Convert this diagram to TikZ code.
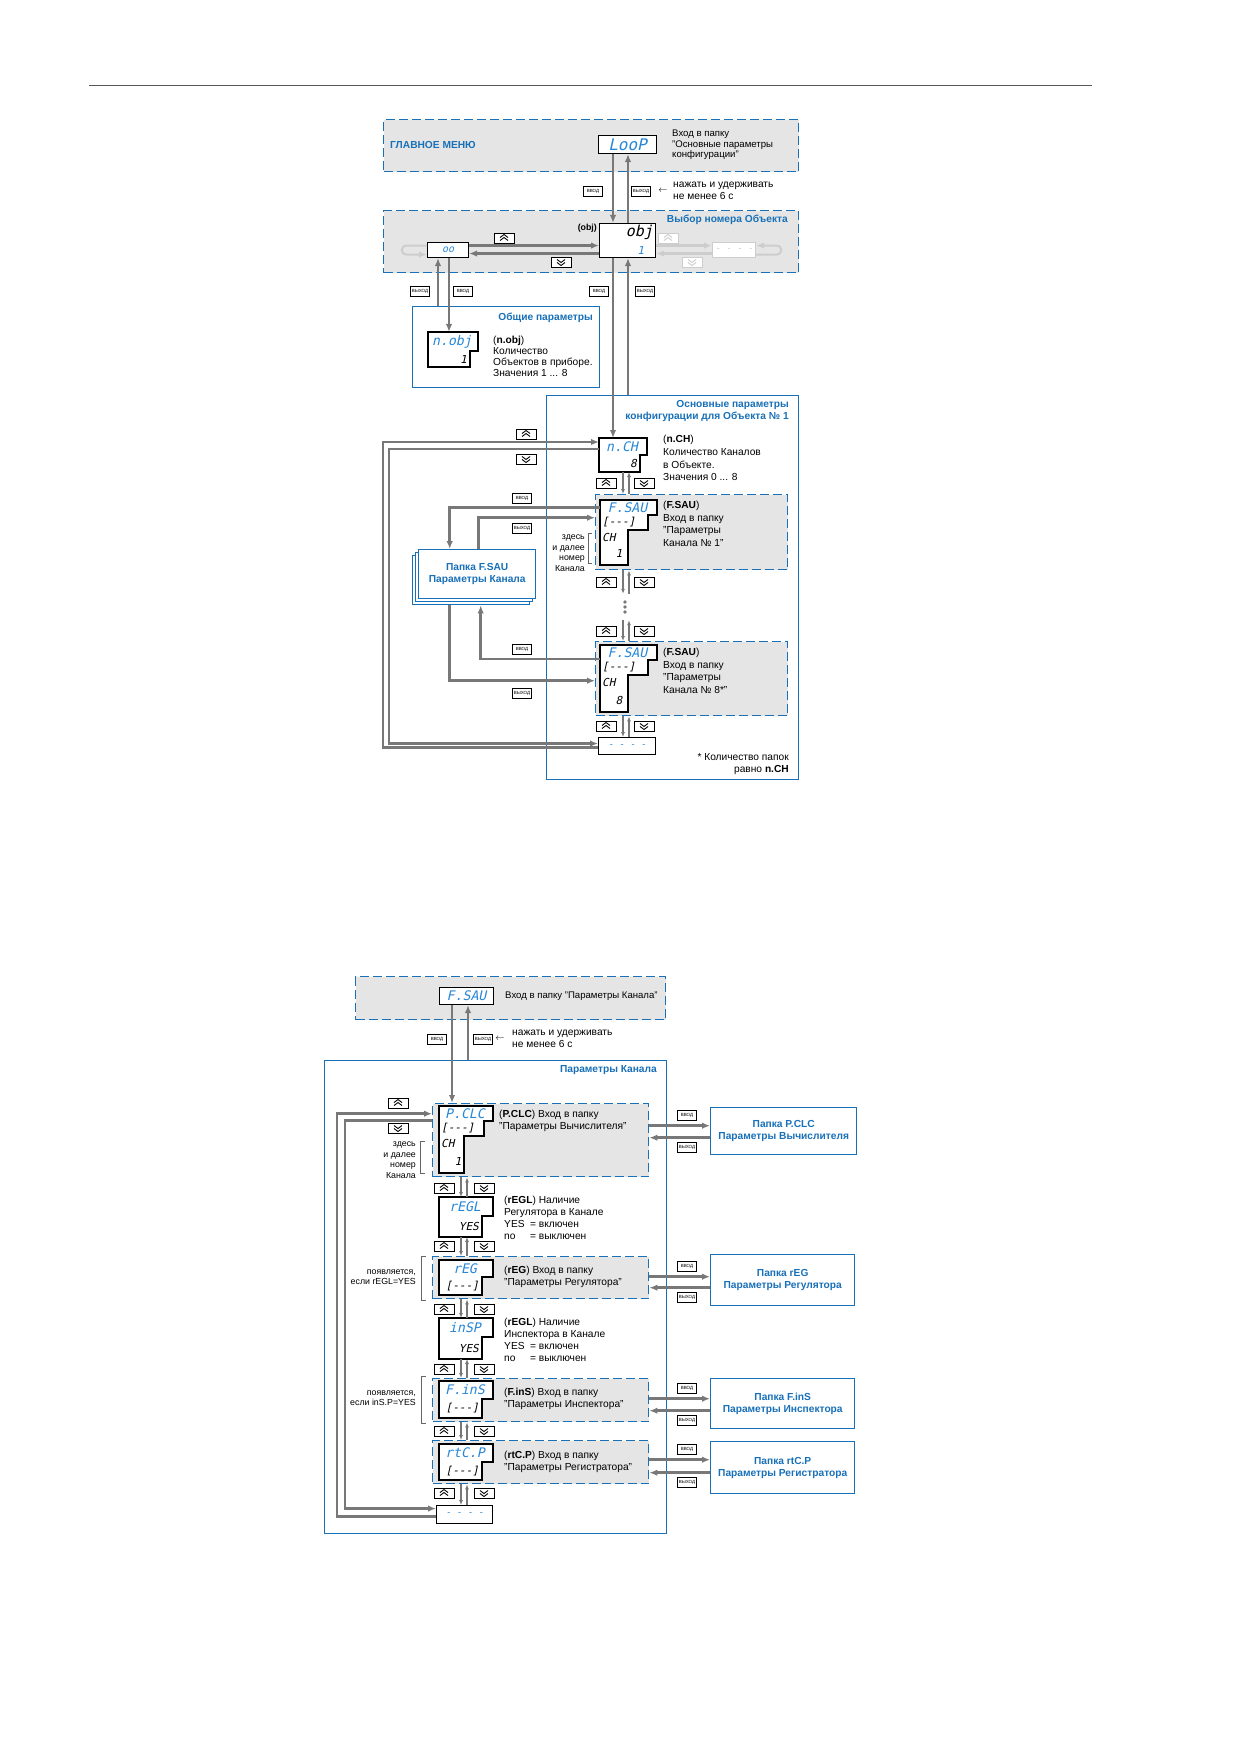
\documentclass[tikz,border=0pt]{standalone}
\usepackage{fontspec}
\setmainfont{Liberation Sans}
\newfontfamily\segfont{DejaVu Sans Mono}[FakeSlant=0.22]
\usetikzlibrary{arrows.meta,calc}

\definecolor{boxblue}{RGB}{24,112,184}
\definecolor{segblue}{RGB}{40,135,215}
\definecolor{panelgray}{RGB}{229,229,229}
\definecolor{flowgray}{RGB}{120,120,120}
\definecolor{fadegray}{RGB}{205,205,205}

\newcommand{\txtsize}{\fontsize{10.2}{11.8}\selectfont}
\newcommand{\notesize}{\fontsize{8.8}{10.6}\selectfont}
\newcommand{\keysize}{\fontsize{4.5}{5}\selectfont}

% display with four rows: name, left, top, width, height, top text, channel digit
\newcommand{\chdisp}[7]{%
  \node[dispbox, anchor=north west, minimum width=#4, minimum height=#5] (#1) at (#2,#3) {};
  \draw[dispedge] (#1.north west) -- (#1.north east) -- ++(0,15) -- ++(-9,0) -- ++(0,15) -- ++(-20,0) |- (#1.south west) -- cycle;
  \node[segtop] (#1top) at ($(#1.north)+(-1,7.5)$) {#6};
  \node[segrow, anchor=west] (#1mid) at ($(#1.north west)+(2,22.5)$) {[-{}-{}-]};
  \node[segrow, anchor=west] (#1ch) at ($(#1.north west)+(2,37.5)$) {CH};
  \node[segrow] (#1num) at ($(#1.north west)+(19,#5-12)$) {#7};
}
% display with two rows: name, left, top, width, height, step, inset, top text, bottom text
\newcommand{\pardisp}[9]{%
  \node[dispbox, anchor=north west, minimum width=#4, minimum height=#5] (#1) at (#2,#3) {};
  \draw[dispedge] (#1.north west) -- (#1.north east) -- ++(0,#6) -- ++(-#7,0) |- (#1.south west) -- cycle;
  \node[segtop] (#1top) at ($(#1.north)+(-1,#6/2)$) {#8};
  \node[segrow, anchor=east] (#1low) at ($(#1.north east)+(-#7-3,#6/2+#5/2)$) {#9};
}

\begin{document}
\begin{tikzpicture}[x=1pt, y=-1pt, >={Latex[length=8pt,width=6.5pt]},
  txt/.style={inner sep=0pt, align=left, font=\txtsize},
  note/.style={inner sep=0pt, align=right, font=\notesize},
  ttl/.style={inner sep=0pt, align=right, text=boxblue, font=\txtsize\bfseries},
  panel/.style={draw=boxblue, fill=panelgray, line width=1.4pt, dash pattern=on 9pt off 4pt, inner sep=0pt, anchor=north west},
  frame/.style={draw=boxblue, fill=white, line width=1.4pt, inner sep=0pt, anchor=north west},
  folder/.style={frame, align=center, text=boxblue, font=\txtsize\bfseries},
  dispbox/.style={inner sep=0pt, outer sep=0pt},
  dispedge/.style={draw=black, fill=white, line width=1.1pt},
  disp/.style={draw=black, fill=white, line width=1.1pt, inner sep=0pt, anchor=north west},
  seg/.style={inner sep=0pt, font=\segfont\fontsize{13.2}{13.2}\selectfont},
  segtop/.style={seg, text=segblue},
  segrow/.style={inner sep=0pt, font=\segfont\fontsize{11}{11}\selectfont},
  flow/.style={draw=flowgray, line width=2.6pt, ->},
  thinflow/.style={draw=flowgray, line width=1.3pt, -{Latex[length=5pt,width=4pt]}},
  fadeflow/.style={draw=fadegray, line width=2.4pt, ->},
  key/.style={draw, fill=white, line width=0.6pt, inner sep=0.8pt, minimum width=19, minimum height=10, font=\keysize},
  chev/.store in=\chevcolor, chev=black,
  btn/.style={draw, fill=white, line width=0.9pt, minimum width=20, minimum height=10, inner sep=0pt},
  btnup/.style={btn, path picture={\draw[draw=\chevcolor, line width=0.9pt, shift={(path picture bounding box.center)}]
      (-4,2.5) -- (0,-0.5) -- (4,2.5) (-4,-0.5) -- (0,-3.5) -- (4,-0.5);}},
  btndn/.style={btn, path picture={\draw[draw=\chevcolor, line width=0.9pt, shift={(path picture bounding box.center)}]
      (-4,-2.5) -- (0,0.5) -- (4,-2.5) (-4,0.5) -- (0,3.5) -- (4,0.5);}},
  bracket/.style={draw=black!60, line width=0.6pt}
]

% Page and top rule
\fill[white] (0,0) rectangle (1239,1752);
\useasboundingbox (0,0) rectangle (1239,1752);
\draw[black!65, line width=0.9pt] (89,85) -- (1092,85);

% columns of the vertical connectors
\coordinate (mdn) at (613,0); \coordinate (mup) at (628,0);
\coordinate (tdn) at (623,0); \coordinate (tup) at (629,0);
\coordinate (gup) at (438,0); \coordinate (gdn) at (449,0);
\coordinate (bdn) at (452,0); \coordinate (bup) at (468,0);
\coordinate (kdn) at (461,0); \coordinate (kup) at (467,0);

% ---------------- main menu
\node[panel, minimum width=415, minimum height=52] (mainmenu) at (383,119) {};
\node[ttl, anchor=west] (mainttl) at (390,145) {ГЛАВНОЕ МЕНЮ};
\node[disp, segtop, font=\segfont\fontsize{16}{16}\selectfont, minimum width=58, minimum height=18] (loop) at (598,135) {LooP};
\node[txt, anchor=west, font=\fontsize{9.6}{10.5}\selectfont] (loopnote) at (672,145) {Вход в папку\\"Основные параметры\\конфигурации"};

% ---------------- object choice
\node[panel, minimum width=415, minimum height=62] (objsel) at (383,210) {};
\node[ttl, anchor=east] (objttl) at (788,220) {Выбор номера Объекта};
\node[disp, minimum width=56, minimum height=34] (obj) at (599,223) {};
\node[seg, font=\segfont\fontsize{15}{15}\selectfont, anchor=east] (objtop) at ($(obj.north east)+(-3,9)$) {obj};
\node[segrow, text=segblue, anchor=east] (objnum) at ($(obj.south east)+(-12,-8)$) {1};
\node[inner sep=0pt, font=\notesize\bfseries, anchor=east] (objcap) at (597,228) {(obj)};
\node[disp, segtop, font=\segfont\fontsize{10}{10}\selectfont, minimum width=41, minimum height=15] (oo) at (427,242) {oo};
\node[disp, draw=fadegray, text=fadegray, font=\segfont\fontsize{9}{9}\selectfont, minimum width=43, minimum height=15] (fade) at (712,242) {- - - -};

\node[btnup] (bu1) at (504,238) {};
\node[btndn] (bd1) at (561,262) {};
\node[btnup, draw=fadegray, chev=fadegray] (bu2) at (668,238) {};
\node[btndn, draw=fadegray, chev=fadegray] (bd2) at (692,262) {};

\draw[flow] ($(oo.east)+(0,-4.5)$) -- ($(oo.east -| obj.west)+(0,-4.5)$);
\draw[flow] ($(oo.east -| obj.west)+(0,3.5)$) -- ($(oo.east)+(0,3.5)$);
\draw[fadeflow] ($(fade.west -| obj.east)+(0,-4.5)$) -- ($(fade.west)+(0,-4.5)$);
\draw[fadeflow] ($(fade.west)+(0,3.5)$) -- ($(fade.west -| obj.east)+(0,3.5)$);
\draw[fadeflow, line width=2pt] ($(oo.west)+(0,-4.5)$) -- ++(-20,0) .. controls +(-7,0) and +(-7,0) .. ++(0,9) -- ($(oo.west)+(0,4.5)$);
\draw[fadeflow, line width=2pt] ($(fade.east)+(0,4.5)$) -- ++(20,0) .. controls +(7,0) and +(7,0) .. ++(0,-9) -- ($(fade.east)+(0,-4.5)$);

% menu <-> object
\draw[flow] (mdn |- loop.south) -- (mdn |- obj.north);
\draw[flow] (mup |- obj.north) -- (mup |- loop.south);
\node[key] (k1) at (593,191) {ВВОД};
\node[key] (k2) at (641,191) {ВЫХОД};
\node[inner sep=0pt] (harr1) at (663,191) {\fontsize{9}{9}\selectfont$\leftarrow$};
\node[txt, anchor=west] (hold1) at (673,191) {нажать и удерживать\\не менее 6 с};

% ---------------- general parameters
\node[frame, minimum width=187, minimum height=81] (general) at (412,306) {};
\node[ttl, anchor=east] (genttl) at (593,318) {Общие параметры};
\pardisp{nobj}{428}{332}{50}{35}{19}{8}{n.obj}{1}
\node[txt, anchor=west, font=\fontsize{10.2}{11}\selectfont] (nobjnote) at (493,356) {(\textbf{n.obj})\\Количество\\Объектов в приборе.\\Значения 1 ... 8};
\draw[flow] (gup |- general.north) -- (gup |- oo.south);
\draw[flow] (gdn |- oo.south) -- (gdn |- nobj.north);
\node[key] (k3) at (420,291) {ВЫХОД};
\node[key] (k4) at (463,291) {ВВОД};

% ---------------- object configuration
\node[frame, minimum width=252, minimum height=384] (cfg) at (546,395) {};
\node[ttl, anchor=east] (cfgttl) at (789,411) {Основные параметры\\конфигурации для Объекта № 1};
\pardisp{nCH}{599}{438}{48}{34}{17}{7}{n.CH}{8}
\node[txt, anchor=west, font=\fontsize{10.2}{12.8}\selectfont] (nchnote) at (663,458) {(\textbf{n.CH})\\Количество Каналов\\в Объекте.\\Значения 0 ... 8};
\draw[flow] (mdn |- obj.south) -- (mdn |- nCH.north);
\draw[flow] (mup |- cfg.north) -- (mup |- obj.south);
\node[key] (k5) at (599,291) {ВВОД};
\node[key] (k6) at (645,291) {ВЫХОД};

\node[panel, minimum width=192, minimum height=75] (fs1box) at (595,494) {};
\chdisp{fs1}{600}{500}{57}{65}{F.SAU}{1}
\node[txt, anchor=west, font=\fontsize{10.2}{12.6}\selectfont] (fs1note) at (663,524) {(\textbf{F.SAU})\\Вход в папку\\"Параметры\\Канала № 1"};
\node[note, anchor=east] (here1) at (585,553) {здесь\\и далее\\номер\\Канала};
\draw[bracket] (592,533) -- (588,533) -- (588,563) -- (592,563);

\node[inner sep=0pt, minimum width=10, minimum height=26] (gap) at (625,607) {};
\foreach \d in {-5,0,5} \fill[flowgray] ($(gap.center)+(0,\d)$) circle (1.8);

\node[panel, minimum width=192, minimum height=74] (fs8box) at (595,641) {};
\chdisp{fs8}{600}{645}{57}{67}{F.SAU}{8}
\node[txt, anchor=west, font=\fontsize{10.2}{12.6}\selectfont] (fs8note) at (663,671) {(\textbf{F.SAU})\\Вход в папку\\"Параметры\\Канала № 8*"};
\node[disp, segtop, font=\segfont\fontsize{9}{9}\selectfont, minimum width=57, minimum height=17] (dash1) at (598,737) {- - - -};
\node[txt, align=right, anchor=east] (count) at (789,764) {* Количество папок\\равно \textbf{n.CH}};

\foreach \y [count=\i] in {483,582,631,726} {
  \node[btnup] (cu\i) at (606,\y) {};
  \node[btndn] (cd\i) at (644,\y) {};
}
\foreach \a/\b in {nCH/fs1box, fs1box/gap, gap/fs8box, fs8box/dash1} {
  \draw[thinflow] (tdn |- \a.south) -- (tdn |- \b.north);
  \draw[thinflow] (tup |- \b.north) -- (tup |- \a.south);
}

\node[btnup] (nu) at (526,434) {};
\node[btndn] (nd) at (526,459) {};
\draw[flow] ($(dash1.west)+(0,1.5)$) -- ++(-215,0) |- ($(nCH.west)+(0,-13)$);
\draw[flow] ($(nCH.west)+(0,-6)$) -- ++(-210,0) |- ($(dash1.west)+(0,-2.5)$);

% folder of channel parameters
\node[frame, minimum width=117, minimum height=49] (fsfoldC) at (412,555) {};
\node[frame, minimum width=117, minimum height=49] (fsfoldB) at (415,552) {};
\node[folder, minimum width=117, minimum height=49] (fsfold) at (418,549) {Папка F.SAU\\Параметры Канала};
\draw[flow] ($(fs1.north west)+(0,7.5)$) -| ($(fsfold.north)+(-27.5,0)$);
\draw[flow] ($(fsfold.north)+(1.5,0)$) |- ($(fs1box.west)+(0,-14.5)$);
\draw[flow] ($(fs8.north west)+(0,14)$) -| ($(fsfoldC.south)+(9.5,0)$);
\draw[flow] ($(fsfoldC.south)+(-21.5,0)$) |- ($(fs8box.west)+(0,2)$);
\node[key] (k7) at (522,498) {ВВОД};
\node[key] (k8) at (522,528) {ВЫХОД};
\node[key] (k9) at (522,649) {ВВОД};
\node[key] (k10) at (522,693) {ВЫХОД};

% ---------------- channel parameters
\node[panel, minimum width=310, minimum height=43] (chtop) at (355,976) {};
\node[disp, segtop, minimum width=54, minimum height=17] (fsaub) at (439,987) {F.SAU};
\node[txt, anchor=west, font=\fontsize{9.6}{11}\selectfont] (chtopnote) at (505,996) {Вход в папку "Параметры Канала"};
\node[frame, minimum width=342, minimum height=473] (chan) at (324,1060) {};
\node[ttl, anchor=east] (chanttl) at (657,1070) {Параметры Канала};

\node[panel, minimum width=216, minimum height=73] (pclcbox) at (432,1103) {};
\chdisp{dpclc}{439}{1106}{54}{67}{P.CLC}{1}
\node[txt, anchor=west] (pclcnote) at (499,1121) {(\textbf{P.CLC}) Вход в папку\\"Параметры Вычислителя"};
\node[note, anchor=east] (here2) at (416,1160) {здесь\\и далее\\номер\\Канала};
\draw[bracket] (425,1141) -- (420,1141) -- (420,1173) -- (425,1173);

\pardisp{dregl}{439}{1197}{54}{40}{19}{11}{rEGL}{YES}
\node[txt, anchor=west] (reglnote) at (504,1218) {(\textbf{rEGL}) Наличие\\Регулятора в Канале\\\makebox[26pt][l]{YES}= включен\\\makebox[26pt][l]{no}= выключен};

\node[panel, minimum width=216, minimum height=42] (regbox) at (432,1256) {};
\pardisp{dreg}{439}{1260}{54}{35}{17}{11}{rEG}{[-{}-{}-]}
\node[txt, anchor=west] (regnote) at (504,1277) {(\textbf{rEG}) Вход в папку\\"Параметры Регулятора"};
\node[note, anchor=east] (cond1) at (416,1277) {появляется,\\если rEGL=YES};
\draw[bracket] (426,1256) -- (421,1256) -- (421,1300) -- (426,1300);

\pardisp{dinsp}{439}{1318}{54}{41}{19}{11}{inSP}{YES}
\node[txt, anchor=west] (inspnote) at (504,1340) {(\textbf{rEGL}) Наличие\\Инспектора в Канале\\\makebox[26pt][l]{YES}= включен\\\makebox[26pt][l]{no}= выключен};

\node[panel, minimum width=216, minimum height=43] (finsbox) at (432,1378) {};
\pardisp{dfins}{439}{1381}{54}{37}{18}{11}{F.inS}{[-{}-{}-]}
\node[txt, anchor=west] (finsnote) at (504,1399) {(\textbf{F.inS}) Вход в папку\\"Параметры Инспектора"};
\node[note, anchor=east] (cond2) at (416,1398) {появляется,\\если inS.P=YES};
\draw[bracket] (426,1376) -- (421,1376) -- (421,1423) -- (426,1423);

\node[panel, minimum width=216, minimum height=43] (rtcbox) at (432,1440) {};
\pardisp{drtcp}{439}{1444}{54}{36}{18}{11}{rtC.P}{[-{}-{}-]}
\node[txt, anchor=west] (rtcnote) at (504,1462) {(\textbf{rtC.P}) Вход в папку\\"Параметры Регистратора"};

\node[disp, segtop, font=\segfont\fontsize{9}{9}\selectfont, minimum width=56, minimum height=18] (dash2) at (436,1505) {- - - -};

% entry and exit of the channel folder
\draw[flow] (bdn |- fsaub.south) -- (bdn |- pclcbox.north);
\draw[flow] (bup |- chan.north) -- (bup |- fsaub.south);
\node[key] (k11) at (437,1039) {ВВОД};
\node[key] (k12) at (483,1039) {ВЫХОД};
\node[inner sep=0pt] (harr2) at (500,1039) {\fontsize{9}{9}\selectfont$\leftarrow$};
\node[txt, anchor=west] (hold2) at (512,1039) {нажать и удерживать\\не менее 6 с};

\foreach \y [count=\i] in {1188,1246,1309,1369,1431,1493} {
  \node[btnup] (ku\i) at (444,\y) {};
  \node[btndn] (kd\i) at (484,\y) {};
}
\foreach \a/\b in {pclcbox/dregl, dregl/regbox, regbox/dinsp, dinsp/finsbox, finsbox/rtcbox, rtcbox/dash2} {
  \draw[thinflow] (kdn |- \a.south) -- (kdn |- \b.north);
  \draw[thinflow] (kup |- \b.north) -- (kup |- \a.south);
}

\node[btnup] (pu) at (398,1103) {};
\node[btndn] (pd) at (398,1128) {};
\draw[flow] ($(dash2.west)+(0,2)$) -- ++(-99,0) |- ($(pclcbox.west)+(0,-26.5)$);
\draw[flow] ($(pclcbox.west)+(0,-19.5)$) -- ++(-87,0) |- ($(dash2.west)+(0,-6)$);

% sub-folders
\node[folder, minimum width=146, minimum height=47] (fpclc) at (710,1107) {Папка P.CLC\\Параметры Вычислителя};
\node[folder, minimum width=144, minimum height=51] (freg) at (710,1254) {Папка rEG\\Параметры Регулятора};
\node[folder, minimum width=144, minimum height=50] (ffins) at (710,1378) {Папка F.inS\\Параметры Инспектора};
\node[folder, minimum width=144, minimum height=52] (frtcp) at (710,1441) {Папка rtC.P\\Параметры Регистратора};
\foreach \p/\f/\u/\l in {pclcbox/fpclc/-5.5/6.5, regbox/freg/-3.5/7.5, finsbox/ffins/-5/7, rtcbox/frtcp/-8/5} {
  \draw[flow] ($(\f.west -| \p.east)+(0,\u)$) -- ($(\f.west)+(0,\u)$);
  \draw[flow] ($(\f.west)+(0,\l)$) -- ($(\f.west -| \p.east)+(0,\l)$);
  \node[key] (\f in) at ($(\f.west)+(-23,\u-10)$) {ВВОД};
  \node[key] (\f out) at ($(\f.west)+(-23,\l+10)$) {ВЫХОД};
}

\end{tikzpicture}
\end{document}
